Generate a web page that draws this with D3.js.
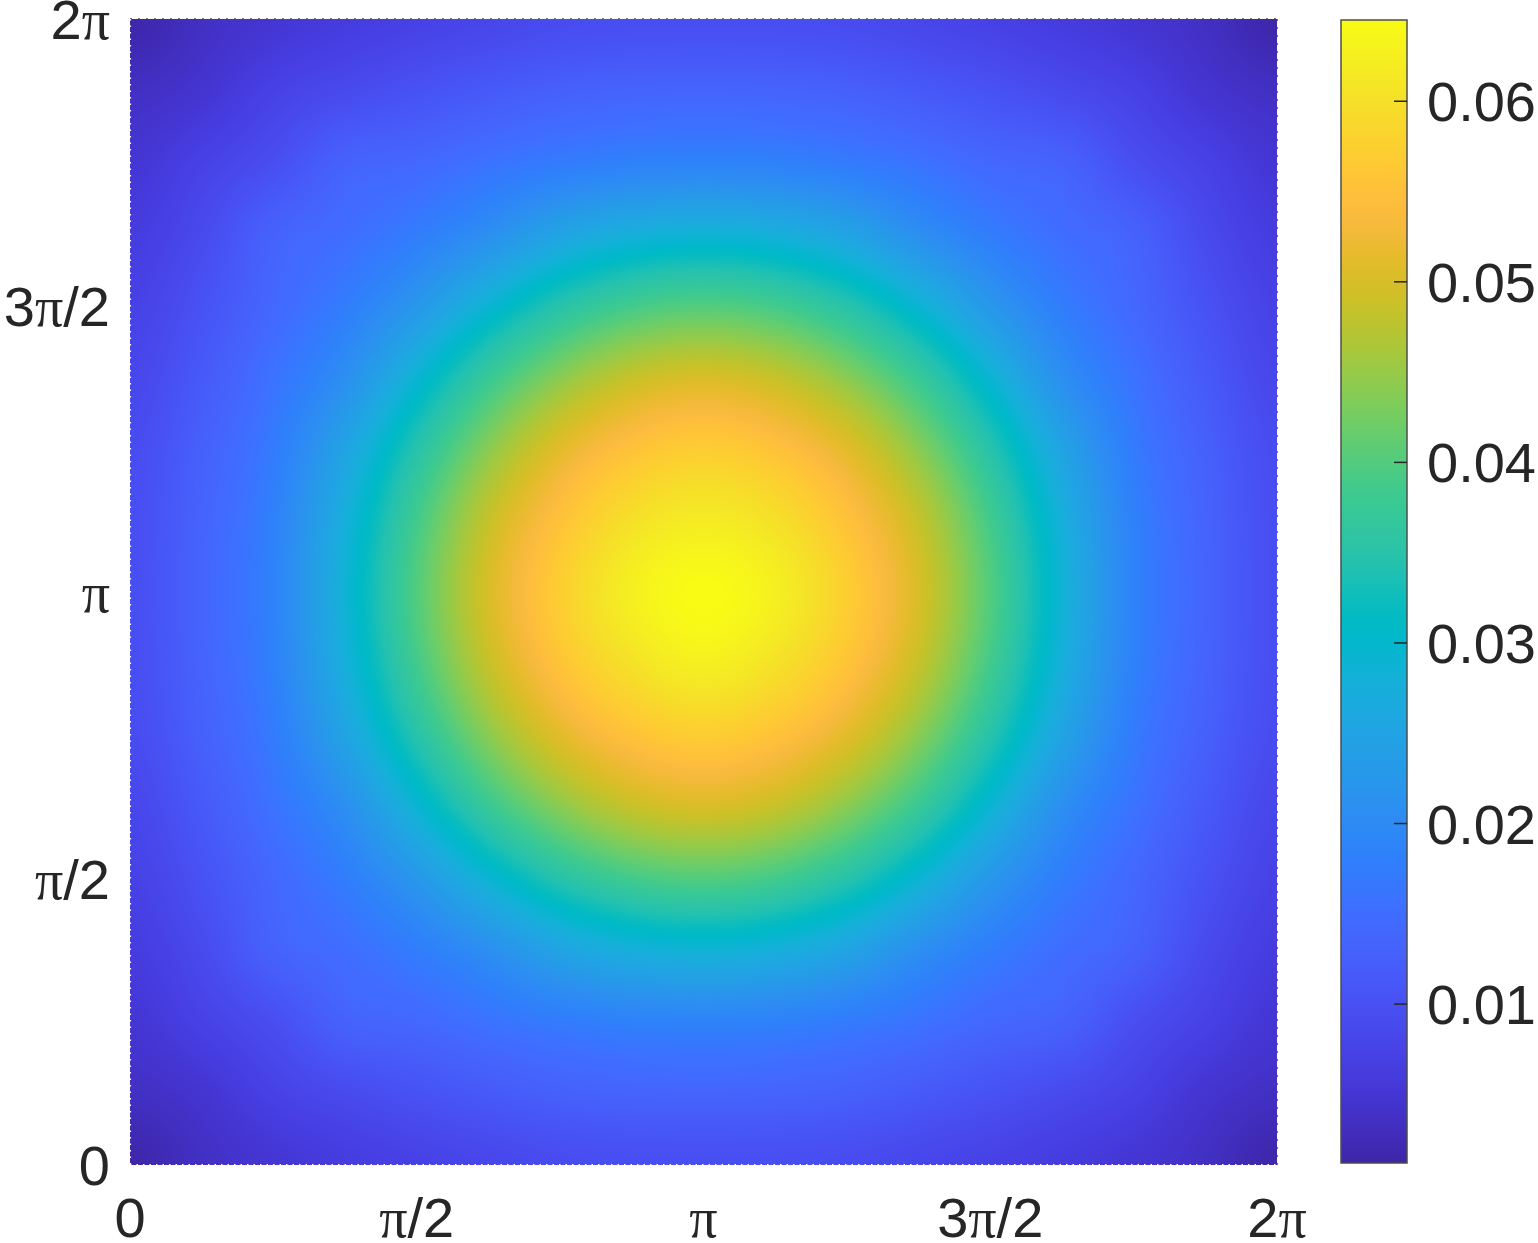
<!DOCTYPE html>
<html><head><meta charset="utf-8">
<script src="https://cdn.jsdelivr.net/npm/d3@7"></script>
<style>body{margin:0;background:#fff;overflow:hidden}</style>
</head><body>
<svg id="chart" width="1538" height="1243"></svg>
<script>
// ---------- data ----------
const axisTickValues = [0, Math.PI / 2, Math.PI, 3 * Math.PI / 2, 2 * Math.PI];
const axisTickLabels = ["0", "π/2", "π", "3π/2", "2π"];
const gridStep = Math.PI / 8; // sample spacing of the value grid (17 x 17)
// rows: y = 0 ... 2π (bottom to top), columns: x = 0 ... 2π
const densityGrid = [
  [0.0012,0.0035,0.0050,0.0062,0.0072,0.0081,0.0090,0.0094,0.0095,0.0094,0.0090,0.0081,0.0072,0.0062,0.0050,0.0035,0.0012],
  [0.0035,0.0048,0.0072,0.0088,0.0102,0.0115,0.0127,0.0133,0.0135,0.0133,0.0127,0.0115,0.0102,0.0088,0.0072,0.0048,0.0035],
  [0.0050,0.0072,0.0095,0.0130,0.0140,0.0158,0.0172,0.0182,0.0185,0.0182,0.0172,0.0158,0.0140,0.0130,0.0095,0.0072,0.0050],
  [0.0062,0.0088,0.0130,0.0150,0.0175,0.0208,0.0250,0.0276,0.0285,0.0276,0.0250,0.0208,0.0175,0.0150,0.0130,0.0088,0.0062],
  [0.0072,0.0102,0.0140,0.0175,0.0225,0.0290,0.0348,0.0386,0.0400,0.0386,0.0348,0.0290,0.0225,0.0175,0.0140,0.0102,0.0072],
  [0.0081,0.0115,0.0158,0.0208,0.0290,0.0374,0.0440,0.0484,0.0500,0.0484,0.0440,0.0374,0.0290,0.0208,0.0158,0.0115,0.0081],
  [0.0090,0.0127,0.0172,0.0250,0.0348,0.0440,0.0510,0.0552,0.0570,0.0552,0.0510,0.0440,0.0348,0.0250,0.0172,0.0127,0.0090],
  [0.0094,0.0133,0.0182,0.0276,0.0386,0.0484,0.0555,0.0602,0.0625,0.0602,0.0555,0.0484,0.0386,0.0276,0.0182,0.0133,0.0094],
  [0.0095,0.0135,0.0185,0.0285,0.0400,0.0500,0.0572,0.0625,0.0645,0.0625,0.0572,0.0500,0.0400,0.0285,0.0185,0.0135,0.0095],
  [0.0094,0.0133,0.0182,0.0276,0.0386,0.0484,0.0552,0.0600,0.0618,0.0600,0.0552,0.0484,0.0386,0.0276,0.0182,0.0133,0.0094],
  [0.0090,0.0127,0.0172,0.0250,0.0348,0.0440,0.0510,0.0552,0.0570,0.0552,0.0510,0.0440,0.0348,0.0250,0.0172,0.0127,0.0090],
  [0.0081,0.0115,0.0158,0.0208,0.0290,0.0374,0.0440,0.0484,0.0500,0.0484,0.0440,0.0374,0.0290,0.0208,0.0158,0.0115,0.0081],
  [0.0072,0.0102,0.0140,0.0175,0.0225,0.0290,0.0348,0.0386,0.0400,0.0386,0.0348,0.0290,0.0225,0.0175,0.0140,0.0102,0.0072],
  [0.0062,0.0088,0.0130,0.0150,0.0175,0.0208,0.0250,0.0276,0.0285,0.0276,0.0250,0.0208,0.0175,0.0150,0.0130,0.0088,0.0062],
  [0.0050,0.0072,0.0095,0.0130,0.0140,0.0158,0.0172,0.0182,0.0185,0.0182,0.0172,0.0158,0.0140,0.0130,0.0095,0.0072,0.0050],
  [0.0035,0.0048,0.0072,0.0088,0.0102,0.0115,0.0127,0.0133,0.0135,0.0133,0.0127,0.0115,0.0102,0.0088,0.0072,0.0048,0.0035],
  [0.0012,0.0035,0.0050,0.0062,0.0072,0.0081,0.0090,0.0094,0.0095,0.0094,0.0090,0.0081,0.0072,0.0062,0.0050,0.0035,0.0012]
];
const colorbarTicks = [0.01, 0.02, 0.03, 0.04, 0.05, 0.06];
const colorbarLabels = ["0.01", "0.02", "0.03", "0.04", "0.05", "0.06"];
const colorLimits = [0.0012, 0.0645];
// MATLAB parula (64)
const parula = [
[0.2422,0.1504,0.6603],[0.2504,0.1650,0.7076],[0.2578,0.1818,0.7511],[0.2647,0.1978,0.7952],
[0.2706,0.2147,0.8364],[0.2751,0.2342,0.8710],[0.2783,0.2559,0.8991],[0.2803,0.2782,0.9221],
[0.2813,0.3006,0.9414],[0.2810,0.3228,0.9579],[0.2795,0.3447,0.9717],[0.2760,0.3667,0.9829],
[0.2699,0.3892,0.9906],[0.2602,0.4123,0.9952],[0.2440,0.4358,0.9988],[0.2206,0.4603,0.9973],
[0.1963,0.4847,0.9892],[0.1834,0.5074,0.9798],[0.1786,0.5289,0.9682],[0.1764,0.5499,0.9520],
[0.1687,0.5703,0.9359],[0.1540,0.5902,0.9218],[0.1460,0.6091,0.9079],[0.1380,0.6276,0.8973],
[0.1248,0.6459,0.8883],[0.1113,0.6635,0.8763],[0.0952,0.6798,0.8598],[0.0689,0.6948,0.8394],
[0.0297,0.7082,0.8163],[0.0036,0.7203,0.7917],[0.0067,0.7312,0.7660],[0.0433,0.7411,0.7394],
[0.0964,0.7500,0.7120],[0.1408,0.7584,0.6842],[0.1717,0.7670,0.6554],[0.1938,0.7758,0.6251],
[0.2161,0.7843,0.5923],[0.2470,0.7918,0.5567],[0.2906,0.7973,0.5188],[0.3406,0.8008,0.4789],
[0.3909,0.8029,0.4354],[0.4456,0.8024,0.3909],[0.5044,0.7993,0.3480],[0.5616,0.7942,0.3045],
[0.6174,0.7876,0.2612],[0.6720,0.7793,0.2227],[0.7242,0.7698,0.1910],[0.7738,0.7598,0.1646],
[0.8203,0.7498,0.1535],[0.8634,0.7406,0.1596],[0.9035,0.7330,0.1774],[0.9393,0.7288,0.2100],
[0.9728,0.7298,0.2394],[0.9956,0.7434,0.2371],[0.9970,0.7659,0.2199],[0.9952,0.7893,0.2028],
[0.9892,0.8136,0.1885],[0.9786,0.8386,0.1766],[0.9676,0.8639,0.1643],[0.9610,0.8890,0.1537],
[0.9597,0.9135,0.1423],[0.9628,0.9373,0.1265],[0.9691,0.9606,0.1064],[0.9769,0.9839,0.0805]
];

// ---------- layout ----------
const svg = d3.select("#chart");
const plot = {left: 130, right: 1277, top: 19, bottom: 1165};
const cbar = {left: 1341, right: 1407, top: 20, bottom: 1163};
const textColor = "#262626";
const sansFont = "Arial, 'Liberation Sans', Helvetica, sans-serif";
const piFont = "'Times New Roman', 'Liberation Serif', serif";
const fontSize = 56;

const x = d3.scaleLinear().domain([0, 2 * Math.PI]).range([plot.left, plot.right]);
const y = d3.scaleLinear().domain([0, 2 * Math.PI]).range([plot.bottom, plot.top]);

const cmapDomain = parula.map((_, i) => colorLimits[0] + i * (colorLimits[1] - colorLimits[0]) / (parula.length - 1));
const color = d3.scaleLinear().domain(cmapDomain)
  .range(parula.map(c => d3.rgb(c[0] * 255, c[1] * 255, c[2] * 255)))
  .interpolate(d3.interpolateRgb).clamp(true);

// ---------- heatmap (interpolated shading over the value grid) ----------
const nRows = densityGrid.length, nCols = densityGrid[0].length;
function cr(p0, p1, p2, p3, t) {
  return p1 + 0.5 * t * (p2 - p0 + t * (2 * p0 - 5 * p1 + 4 * p2 - p3 + t * (3 * (p1 - p2) + p3 - p0)));
}
function gv(r, c) {
  r = Math.max(0, Math.min(nRows - 1, r));
  c = Math.max(0, Math.min(nCols - 1, c));
  return densityGrid[r][c];
}
function sample(xv, yv) {
  const u = xv / gridStep, v = yv / gridStep;
  const c0 = Math.min(nCols - 2, Math.floor(u)), r0 = Math.min(nRows - 2, Math.floor(v));
  const tu = u - c0, tv = v - r0;
  const rowsI = [];
  for (let k = -1; k <= 2; k++) {
    const r = r0 + k;
    rowsI.push(cr(gv(r, c0 - 1), gv(r, c0), gv(r, c0 + 1), gv(r, c0 + 2), tu));
  }
  return cr(rowsI[0], rowsI[1], rowsI[2], rowsI[3], tv);
}

const W = Math.round(plot.right - plot.left), H = Math.round(plot.bottom - plot.top);
const canvas = document.createElement("canvas");
canvas.width = W; canvas.height = H;
const ctx = canvas.getContext("2d");
const img = ctx.createImageData(W, H);
const LUT = 2048, lut = [];
for (let i = 0; i < LUT; i++) {
  const c = d3.rgb(color(colorLimits[0] + (i / (LUT - 1)) * (colorLimits[1] - colorLimits[0])));
  lut.push([c.r, c.g, c.b]);
}
for (let py = 0; py < H; py++) {
  const yv = y.invert(plot.top + py + 0.5);
  for (let px = 0; px < W; px++) {
    const xv = x.invert(plot.left + px + 0.5);
    const val = sample(xv, yv);
    let t = (val - colorLimits[0]) / (colorLimits[1] - colorLimits[0]);
    t = Math.max(0, Math.min(1, t));
    const c = lut[Math.round(t * (LUT - 1))];
    const o = (py * W + px) * 4;
    img.data[o] = c[0]; img.data[o + 1] = c[1]; img.data[o + 2] = c[2]; img.data[o + 3] = 255;
  }
}
ctx.putImageData(img, 0, 0);
svg.append("image")
  .attr("x", plot.left).attr("y", plot.top)
  .attr("width", W).attr("height", H)
  .attr("preserveAspectRatio", "none")
  .attr("href", canvas.toDataURL());

// faint box lines at top/right, scalloped marker edge at left/bottom
svg.append("line").attr("x1", plot.left).attr("x2", plot.right + 1).attr("y1", plot.top - 0.5).attr("y2", plot.top - 0.5)
  .attr("stroke", "#777").attr("stroke-width", 1).attr("stroke-dasharray", "2,6");
svg.append("line").attr("x1", plot.right + 0.5).attr("x2", plot.right + 0.5).attr("y1", plot.top).attr("y2", plot.bottom)
  .attr("stroke", "#777").attr("stroke-width", 1).attr("stroke-dasharray", "2,6");
svg.append("line").attr("x1", plot.left + 0.5).attr("x2", plot.left + 0.5).attr("y1", plot.top).attr("y2", plot.bottom)
  .attr("stroke", "#fff").attr("stroke-width", 1.2).attr("stroke-dasharray", "1.5,5");
svg.append("line").attr("x1", plot.left).attr("x2", plot.right).attr("y1", plot.bottom - 0.5).attr("y2", plot.bottom - 0.5)
  .attr("stroke", "#fff").attr("stroke-width", 1.2).attr("stroke-dasharray", "1.5,5");

// ---------- tick labels ----------
function writeLabel(sel, label) {
  const parts = label.split("π");
  parts.forEach((p, i) => {
    if (p) sel.append("tspan").attr("font-family", sansFont).text(p);
    if (i < parts.length - 1) sel.append("tspan").attr("font-family", piFont).text("π");
  });
}
const xAxisG = svg.append("g").attr("class", "x-axis");
axisTickValues.forEach((v, i) => {
  const t = xAxisG.append("text")
    .attr("x", x(v)).attr("y", 1237)
    .attr("text-anchor", "middle")
    .attr("font-size", fontSize).attr("fill", textColor);
  writeLabel(t, axisTickLabels[i]);
});
const yAxisG = svg.append("g").attr("class", "y-axis");
axisTickValues.forEach((v, i) => {
  const t = yAxisG.append("text")
    .attr("x", 110).attr("y", y(v) + 20)
    .attr("text-anchor", "end")
    .attr("font-size", fontSize).attr("fill", textColor);
  writeLabel(t, axisTickLabels[i]);
});

// ---------- colorbar ----------
const cy = d3.scaleLinear().domain(colorLimits).range([cbar.bottom, cbar.top]);
const defs = svg.append("defs");
const grad = defs.append("linearGradient").attr("id", "cbgrad")
  .attr("x1", 0).attr("x2", 0).attr("y1", 1).attr("y2", 0);
parula.forEach((c, i) => {
  grad.append("stop").attr("offset", (i / (parula.length - 1)))
    .attr("stop-color", color(cmapDomain[i]));
});
svg.append("rect")
  .attr("x", cbar.left).attr("y", cbar.top)
  .attr("width", cbar.right - cbar.left).attr("height", cbar.bottom - cbar.top)
  .attr("fill", "url(#cbgrad)")
  .attr("stroke", "#4d4d4d").attr("stroke-width", 1.5);
const cbG = svg.append("g").attr("class", "colorbar-ticks");
colorbarTicks.forEach((v, i) => {
  cbG.append("line")
    .attr("x1", cbar.right - 13).attr("x2", cbar.right)
    .attr("y1", cy(v)).attr("y2", cy(v))
    .attr("stroke", "#262626").attr("stroke-width", 1.5);
  cbG.append("text")
    .attr("x", 1427).attr("y", cy(v) + 20)
    .attr("font-family", sansFont).attr("font-size", fontSize)
    .attr("fill", textColor).text(colorbarLabels[i]);
});
</script>
</body></html>
